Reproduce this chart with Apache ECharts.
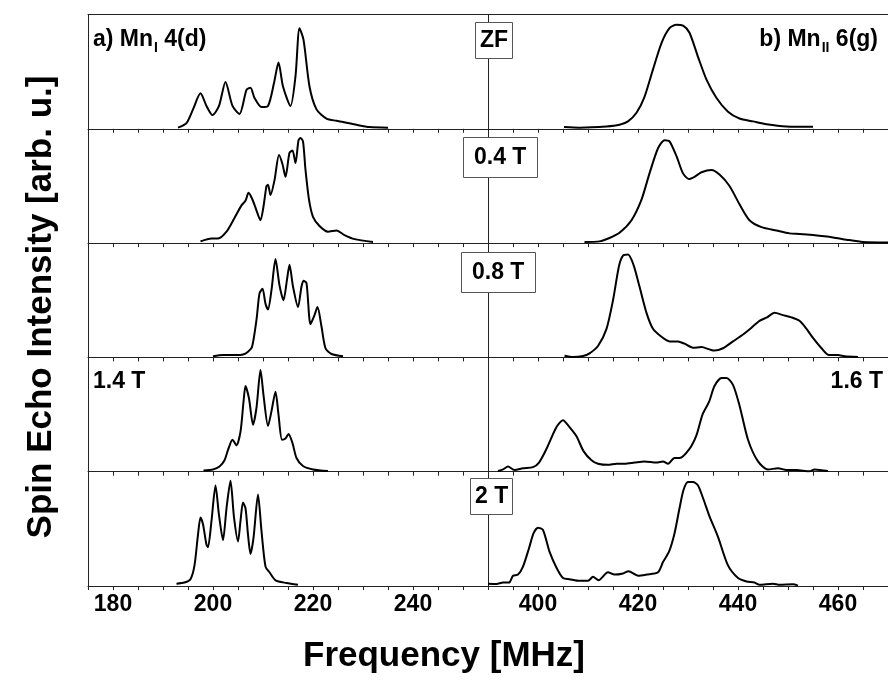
<!DOCTYPE html>
<html><head><meta charset="utf-8">
<script src="https://cdn.jsdelivr.net/npm/echarts@6/dist/echarts.min.js"></script>
<style>html,body{margin:0;padding:0;background:#fff}#c{width:888px;height:691px}</style>
</head><body><div id="c"></div>
<script>
// ---- axis ranges & tick labels ----
const leftRange = [175, 255];
const rightRange = [390, 470];
const leftTickLabels = [180, 200, 220, 240];
const rightTickLabels = [400, 420, 440, 460];

// ---- spectra: [frequency MHz, normalized spin echo intensity] ----
const mnI_ZF = [[193.0,0.01],[194.7,0.05],[196.0,0.17],[197.5,0.31],[198.7,0.20],[199.9,0.12],[201.2,0.20],[202.5,0.41],[203.9,0.20],[205.3,0.13],[206.7,0.34],[207.5,0.36],[208.3,0.27],[209.7,0.19],[211.0,0.20],[212.2,0.40],[213.1,0.58],[214.0,0.37],[215.5,0.20],[216.5,0.46],[217.3,0.88],[218.1,0.78],[219.3,0.37],[220.7,0.17],[222.7,0.09],[224.7,0.07],[226.0,0.06],[228.7,0.035],[231.3,0.015],[235.0,0.01]];
const mnII_ZF = [[405.2,0.015],[408.3,0.01],[413.7,0.02],[416.3,0.035],[418.0,0.065],[419.7,0.14],[421.3,0.28],[423.0,0.52],[424.7,0.75],[426.3,0.88],[427.7,0.91],[429.1,0.90],[430.3,0.84],[432.0,0.63],[433.7,0.43],[435.7,0.27],[438.0,0.15],[440.3,0.09],[443.0,0.065],[445.7,0.04],[449.7,0.02],[455.0,0.017]];
const mnI_04T = [[197.5,0.015],[199.7,0.04],[201.0,0.04],[202.7,0.10],[204.3,0.22],[205.7,0.33],[206.5,0.37],[207.1,0.44],[207.8,0.39],[208.5,0.31],[209.5,0.20],[210.1,0.32],[210.7,0.50],[211.0,0.51],[211.5,0.42],[212.3,0.55],[213.2,0.77],[213.9,0.69],[214.5,0.58],[215.3,0.79],[215.9,0.81],[216.5,0.70],[217.1,0.90],[217.5,0.92],[218.0,0.89],[218.5,0.64],[219.2,0.38],[220.0,0.23],[221.3,0.15],[223.0,0.10],[224.7,0.11],[226.3,0.07],[228.3,0.035],[232.0,0.01]];
const mnII_04T = [[409.3,0.01],[412.3,0.015],[414.3,0.045],[416.3,0.09],[418.7,0.20],[420.7,0.38],[422.3,0.61],[424.0,0.83],[425.3,0.90],[426.3,0.89],[427.7,0.76],[429.0,0.61],[430.2,0.56],[431.3,0.58],[432.7,0.62],[434.7,0.64],[436.3,0.60],[438.3,0.50],[440.3,0.34],[442.3,0.20],[444.7,0.14],[447.7,0.11],[450.3,0.085],[452.3,0.08],[455.0,0.07],[459.0,0.05],[461.7,0.03],[465.0,0.01],[470.0,0.006]];
const mnI_08T = [[200.0,0.01],[202.0,0.02],[204.7,0.02],[206.0,0.025],[207.0,0.05],[207.8,0.09],[208.7,0.33],[209.3,0.56],[209.9,0.60],[210.5,0.47],[211.0,0.42],[211.7,0.59],[212.5,0.86],[213.3,0.63],[214.1,0.50],[214.8,0.68],[215.3,0.81],[216.0,0.62],[217.0,0.44],[217.7,0.62],[218.1,0.67],[218.7,0.65],[219.5,0.29],[220.3,0.37],[220.9,0.44],[221.7,0.27],[222.5,0.08],[223.7,0.03],[226.0,0.01]];
const mnII_08T = [[405.3,0.015],[407.0,0.003],[409.0,0.012],[410.3,0.035],[412.0,0.10],[413.7,0.25],[415.0,0.50],[416.2,0.80],[417.0,0.89],[418.0,0.90],[419.1,0.81],[420.3,0.62],[421.7,0.39],[423.0,0.25],[424.7,0.18],[426.3,0.14],[428.0,0.14],[429.3,0.12],[431.0,0.085],[432.7,0.09],[434.3,0.07],[435.3,0.06],[437.0,0.08],[439.0,0.14],[441.0,0.20],[442.7,0.26],[444.3,0.32],[445.8,0.35],[447.3,0.39],[449.0,0.37],[450.7,0.35],[452.3,0.32],[453.7,0.25],[455.0,0.17],[456.7,0.08],[458.2,0.02],[460.0,0.02],[461.3,0.01],[464.0,0.003]];
const mnI_14T = [[198.1,0.01],[200.0,0.02],[201.3,0.045],[202.3,0.10],[203.0,0.19],[203.9,0.28],[204.7,0.23],[205.5,0.35],[206.1,0.61],[206.5,0.75],[207.2,0.64],[208.0,0.41],[208.7,0.56],[209.5,0.89],[210.1,0.67],[211.0,0.40],[211.7,0.53],[212.5,0.70],[213.1,0.50],[213.8,0.28],[214.5,0.29],[215.1,0.33],[215.9,0.25],[216.7,0.12],[218.0,0.05],[220.0,0.02],[223.0,0.006]];
const mnII_16T = [[392.0,0.006],[393.0,0.02],[394.0,0.045],[395.3,0.015],[397.0,0.03],[399.0,0.04],[400.2,0.08],[401.7,0.20],[403.7,0.39],[405.0,0.45],[406.3,0.39],[407.7,0.31],[409.1,0.18],[410.7,0.10],[412.0,0.07],[414.0,0.06],[415.7,0.07],[417.3,0.07],[419.3,0.08],[421.3,0.09],[423.7,0.08],[425.0,0.09],[426.0,0.07],[427.3,0.12],[428.3,0.12],[430.3,0.20],[431.7,0.32],[432.9,0.50],[434.2,0.61],[435.3,0.75],[436.7,0.82],[437.7,0.82],[439.0,0.76],[440.3,0.58],[442.0,0.28],[444.0,0.09],[446.0,0.02],[448.0,0.03],[449.7,0.015],[451.7,0.015],[454.3,0.003],[455.3,0.02],[458.0,0.006]];
const mnI_2T = [[192.7,0.02],[194.3,0.03],[195.5,0.06],[196.3,0.18],[197.0,0.45],[197.5,0.60],[198.0,0.54],[198.7,0.36],[199.0,0.34],[199.7,0.57],[200.5,0.88],[201.2,0.62],[202.0,0.40],[202.7,0.68],[203.5,0.92],[204.2,0.60],[205.0,0.39],[205.5,0.57],[206.0,0.73],[206.5,0.68],[207.0,0.45],[207.5,0.28],[208.1,0.42],[209.0,0.80],[209.7,0.48],[210.5,0.17],[211.3,0.12],[212.5,0.05],[214.7,0.026],[217.0,0.01]];
const mnII_2T = [[390.0,0.02],[391.7,0.018],[393.0,0.03],[394.2,0.03],[395.0,0.09],[396.0,0.10],[397.0,0.17],[398.2,0.33],[399.1,0.46],[400.0,0.51],[401.0,0.49],[402.3,0.30],[403.7,0.16],[405.0,0.07],[406.3,0.06],[408.3,0.045],[410.0,0.045],[411.0,0.08],[412.1,0.05],[414.0,0.12],[415.3,0.10],[417.0,0.11],[418.1,0.13],[420.0,0.09],[421.7,0.10],[424.0,0.12],[425.0,0.21],[426.2,0.30],[427.3,0.46],[428.3,0.68],[429.1,0.84],[430.0,0.91],[431.0,0.91],[432.0,0.88],[433.0,0.77],[434.3,0.61],[436.0,0.43],[438.0,0.18],[440.0,0.07],[441.7,0.04],[443.3,0.03],[444.3,0.01],[447.0,0.02],[448.3,0.01],[451.0,0.015],[452.0,0.003]];

const leftSeries = [mnI_ZF, mnI_04T, mnI_08T, mnI_14T, mnI_2T];
const rightSeries = [mnII_ZF, mnII_04T, mnII_08T, mnII_16T, mnII_2T];

// ---- layout ----
const FONT = '"Liberation Sans", Arial, sans-serif';
const AX = '#222';
const plotLeft = 88, halfW = 400, top0 = 14.5, rowH = 114.3, nRows = 5;

const grid = [], xAxis = [], yAxis = [], series = [];
function addPanel(row, side) {
  const gi = grid.length;
  const isLeft = side === 0;
  grid.push({left: plotLeft + side * halfW, top: top0 + row * rowH, width: halfW, height: rowH,
             outerBoundsMode: 'none', containLabel: false});
  const rng = isLeft ? leftRange : rightRange;
  const labs = isLeft ? leftTickLabels : rightTickLabels;
  const bottom = row === nRows - 1;
  const xi = xAxis.length;
  xAxis.push({type: 'value', gridIndex: gi, min: rng[0], max: rng[1], interval: 5, position: 'bottom',
    axisLine: {show: true, onZero: false, lineStyle: {color: AX, width: 1}},
    axisTick: {show: true, length: 4, lineStyle: {color: AX, width: 1}},
    splitLine: {show: false},
    axisLabel: {show: bottom, margin: 7, color: '#000', fontFamily: FONT, fontWeight: 'bold', fontSize: 23,
      formatter: v => labs.includes(v) ? String(v) : ''}});
  const yi = yAxis.length;
  yAxis.push({type: 'value', gridIndex: gi, min: 0, max: 1,
    axisLine: {show: true, onZero: false, lineStyle: {color: AX, width: 1}},
    axisTick: {show: false}, axisLabel: {show: false}, splitLine: {show: false}});
  series.push({type: 'line', xAxisIndex: xi, yAxisIndex: yi,
    data: (isLeft ? leftSeries : rightSeries)[row],
    showSymbol: false, symbol: 'none', smooth: 0.25, silent: true,
    lineStyle: {color: '#000', width: 2}});
  if (row === 0) {
    xAxis.push({type: 'value', gridIndex: gi, min: rng[0], max: rng[1], position: 'top',
      axisLine: {show: true, onZero: false, lineStyle: {color: AX, width: 1}},
      axisTick: {show: false}, axisLabel: {show: false}, splitLine: {show: false}});
  }
}
for (let r = 0; r < nRows; r++) { addPanel(r, 0); addPanel(r, 1); }

const txt = {color: '#000', fontFamily: FONT, fontWeight: 'bold', fontSize: 23};
const rich = {
  b: {color: '#000', fontFamily: FONT, fontWeight: 'bold', fontSize: 23},
  s: {color: '#000', fontFamily: FONT, fontWeight: 'bold', fontSize: 14, padding: [16, 0, 0, 1]}
};
function boxTitle(text, left, top, ph, pv) {
  return {text, left, top, padding: [pv, ph, pv, ph], borderColor: '#555', borderWidth: 1,
          backgroundColor: '#fff', textStyle: txt};
}
const title = [
  {text: '{b|a) Mn}{s|I}{b| 4(d)}', left: 93, top: 25, padding: 0, textStyle: {rich}},
  {text: '{b|b) Mn}{s|II}{b| 6(g)}', right: 10, top: 25, padding: 0, textStyle: {rich}},
  {text: '1.4 T', left: 93, top: 370, padding: 0, textStyle: txt},
  {text: '1.6 T', right: 5, top: 370, padding: 0, textStyle: txt},
  boxTitle('ZF', 475, 22, 5, 7),
  boxTitle('0.4 T', 463, 137, 11, 9),
  boxTitle('0.8 T', 461, 252, 11, 9),
  boxTitle('2 T', 470, 478, 5, 7),
  {text: 'Frequency [MHz]', left: 'center', top: 639, padding: 0,
   textStyle: {color: '#000', fontFamily: FONT, fontWeight: 'bold', fontSize: 35}}
];

const chart = echarts.init(document.getElementById('c'), null, {renderer: 'canvas'});
chart.setOption({
  animation: false,
  backgroundColor: '#fff',
  title, grid, xAxis, yAxis, series,
  graphic: [{type: 'text', x: 41, y: 307, rotation: Math.PI / 2,
    style: {text: 'Spin Echo Intensity [arb. u.]', fill: '#000',
      font: 'bold 35px "Liberation Sans", Arial, sans-serif', align: 'center', verticalAlign: 'middle'}}]
});
</script></body></html>
